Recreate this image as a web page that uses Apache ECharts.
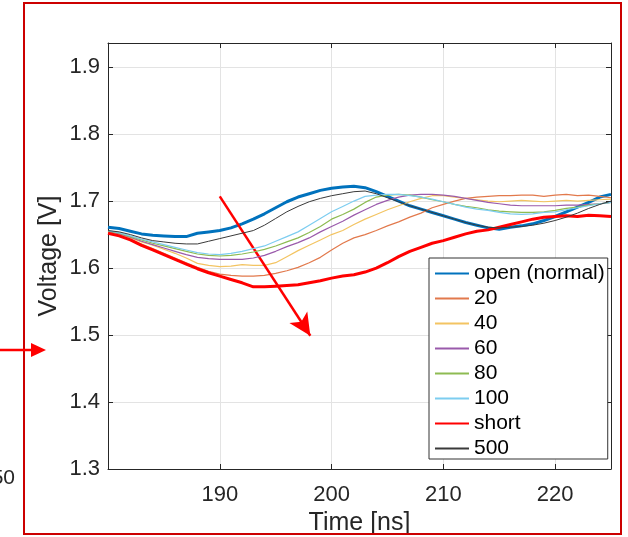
<!DOCTYPE html>
<html>
<head>
<meta charset="utf-8">
<script src="https://cdn.jsdelivr.net/npm/echarts@6/dist/echarts.min.js"></script>
<style>
  html, body { margin: 0; padding: 0; background: #fff; }
  #chart { width: 628px; height: 537px; }
</style>
</head>
<body>
<div id="chart"></div>
<script>
// time axis, 1 ns steps
var times = [];
for (var t = 180; t <= 225; t++) times.push(t);

var openNormal = [1.661,1.659,1.655,1.651,1.649,1.648,1.647,1.647,1.652,1.654,1.656,1.660,1.666,1.673,1.681,1.690,1.699,1.706,1.711,1.716,1.719,1.721,1.722,1.720,1.714,1.707,1.700,1.693,1.688,1.683,1.678,1.673,1.668,1.664,1.660,1.658,1.661,1.663,1.666,1.671,1.677,1.684,1.691,1.698,1.706,1.710];
var r20 = [1.653,1.649,1.643,1.636,1.629,1.622,1.615,1.608,1.601,1.595,1.591,1.589,1.588,1.588,1.589,1.592,1.596,1.601,1.608,1.616,1.627,1.637,1.645,1.650,1.656,1.663,1.669,1.676,1.682,1.690,1.695,1.700,1.704,1.706,1.707,1.708,1.708,1.709,1.709,1.707,1.709,1.710,1.708,1.709,1.707,1.705];
var r40 = [1.654,1.650,1.645,1.639,1.634,1.628,1.622,1.615,1.607,1.604,1.602,1.603,1.605,1.604,1.604,1.608,1.617,1.626,1.634,1.642,1.650,1.656,1.665,1.673,1.680,1.687,1.693,1.699,1.704,1.708,1.708,1.706,1.704,1.702,1.700,1.699,1.700,1.701,1.700,1.699,1.700,1.701,1.700,1.701,1.702,1.703];
var r60 = [1.655,1.651,1.646,1.640,1.635,1.630,1.625,1.620,1.616,1.614,1.613,1.613,1.613,1.615,1.619,1.625,1.632,1.638,1.645,1.654,1.662,1.670,1.679,1.687,1.695,1.701,1.706,1.709,1.710,1.710,1.709,1.707,1.704,1.701,1.698,1.696,1.694,1.693,1.693,1.693,1.693,1.694,1.694,1.695,1.696,1.698];
var r80 = [1.655,1.652,1.647,1.642,1.637,1.633,1.629,1.625,1.621,1.619,1.618,1.619,1.621,1.624,1.628,1.633,1.639,1.645,1.653,1.662,1.673,1.680,1.688,1.698,1.706,1.709,1.710,1.709,1.706,1.702,1.699,1.695,1.692,1.690,1.687,1.685,1.684,1.683,1.683,1.684,1.686,1.689,1.691,1.694,1.696,1.698];
var r100 = [1.656,1.653,1.648,1.643,1.639,1.635,1.631,1.627,1.623,1.621,1.620,1.622,1.625,1.629,1.633,1.640,1.647,1.654,1.664,1.674,1.684,1.692,1.700,1.707,1.709,1.710,1.710,1.708,1.706,1.703,1.699,1.695,1.691,1.688,1.686,1.683,1.681,1.680,1.681,1.683,1.684,1.687,1.690,1.693,1.696,1.698];
var shortCirc = [1.652,1.648,1.642,1.634,1.627,1.620,1.613,1.606,1.599,1.593,1.588,1.583,1.578,1.572,1.572,1.573,1.574,1.575,1.578,1.581,1.585,1.588,1.590,1.594,1.600,1.608,1.617,1.625,1.631,1.637,1.641,1.646,1.651,1.655,1.657,1.661,1.665,1.669,1.673,1.676,1.677,1.678,1.677,1.679,1.678,1.677];
var r500 = [1.656,1.654,1.650,1.645,1.641,1.639,1.637,1.636,1.636,1.640,1.644,1.648,1.652,1.656,1.664,1.674,1.684,1.692,1.699,1.704,1.708,1.711,1.714,1.715,1.711,1.705,1.699,1.693,1.688,1.683,1.678,1.673,1.668,1.664,1.661,1.660,1.661,1.662,1.664,1.667,1.671,1.676,1.682,1.689,1.695,1.700];

var seriesNames = ['open (normal)','20','40','60','80','100','short','500'];
var seriesData = [openNormal, r20, r40, r60, r80, r100, shortCirc, r500];
var seriesColors = ['#0072BD','#E2794C','#F3C462','#9A5AAB','#8EBB52','#7DCDF0','#FF0000','#3a3a3a'];
var seriesWidths = [3, 1.2, 1.2, 1.2, 1.2, 1.2, 3, 1];

// annotation arrow (data coords)
var arrowStart = [190, 1.707];
var arrowEnd = [198.1, 1.499];

function pairs(vals) {
    return times.map(function (t, i) { return [t, vals[i]]; });
}

var series = seriesNames.map(function (name, i) {
    return {
        name: name,
        type: 'line',
        data: pairs(seriesData[i]),
        showSymbol: false,
        symbol: 'none',
        smooth: false,
        color: seriesColors[i],
        itemStyle: { color: seriesColors[i] },
        lineStyle: { color: seriesColors[i], width: seriesWidths[i] },
        z: 2 + i
    };
});
series[0].markLine = {
    silent: true,
    symbol: ['none', 'arrow'],
    symbolSize: [16, 22],
    label: { show: false },
    lineStyle: { color: '#FF0000', width: 2.5, type: 'solid' },
    data: [[{ coord: arrowStart }, { coord: arrowEnd }]]
};

var axisCol = '#262626';
var fontFam = 'Liberation Sans, Arial, sans-serif';

var option = {
    animation: false,
    backgroundColor: '#fff',
    grid: { left: 108, right: 17, top: 43, bottom: 68, outerBoundsMode: 'none' },
    legend: {
        data: seriesNames,
        orient: 'vertical',
        left: 429,
        top: 258,
        itemWidth: 34,
        itemHeight: 14,
        itemGap: 4,
        itemStyle: { opacity: 0 },
        padding: [5, 3, 0, 5],
        borderColor: '#333',
        borderWidth: 1,
        backgroundColor: '#fff',
        textStyle: { fontSize: 21, lineHeight: 21, color: '#000', fontFamily: fontFam }
    },
    xAxis: [{
        type: 'value',
        min: 180, max: 225, interval: 10,
        name: 'Time [ns]',
        nameLocation: 'middle',
        nameGap: 40,
        nameTextStyle: { fontSize: 25, color: axisCol, fontFamily: fontFam },
        axisLine: { onZero: false, lineStyle: { color: axisCol, width: 1 } },
        axisTick: { inside: true, length: 5, lineStyle: { color: axisCol } },
        axisLabel: { showMinLabel: false, showMaxLabel: false, fontSize: 22, color: axisCol, fontFamily: fontFam, margin: 15 },
        splitLine: { show: true, lineStyle: { color: '#e3e3e3', width: 1 } }
    }, {
        type: 'value',
        position: 'top',
        min: 180, max: 225, interval: 10,
        axisLine: { onZero: false, lineStyle: { color: axisCol, width: 1 } },
        axisTick: { inside: true, length: 5, lineStyle: { color: axisCol } },
        axisLabel: { show: false },
        splitLine: { show: false }
    }],
    yAxis: [{
        type: 'value',
        min: 1.3, max: 1.936, interval: 0.1,
        name: 'Voltage [V]',
        nameLocation: 'middle',
        nameGap: 46,
        nameMoveOverlap: false,
        nameTextStyle: { fontSize: 25, color: axisCol, fontFamily: fontFam },
        axisLine: { show: true, onZero: false, lineStyle: { color: axisCol, width: 1 } },
        axisTick: { show: true, inside: true, length: 5, lineStyle: { color: axisCol } },
        axisLabel: {
            showMaxLabel: false, fontSize: 22, color: axisCol, fontFamily: fontFam, margin: 8,
            formatter: function (v) { return v.toFixed(1); }
        },
        splitLine: { show: true, lineStyle: { color: '#e3e3e3', width: 1 } }
    }, {
        type: 'value',
        position: 'right',
        min: 1.3, max: 1.936, interval: 0.1,
        axisLine: { show: true, onZero: false, lineStyle: { color: axisCol, width: 1 } },
        axisTick: { show: true, inside: true, length: 5, lineStyle: { color: axisCol } },
        axisLabel: { show: false },
        splitLine: { show: false }
    }],
    graphic: [
        { type: 'rect', shape: { x: 24, y: 3, width: 597, height: 531 }, style: { fill: 'none', stroke: '#cc0000', lineWidth: 2 }, z: 100 },
        { type: 'line', shape: { x1: 0, y1: 350, x2: 34, y2: 350 }, style: { stroke: '#ff0000', lineWidth: 2.5 }, z: 100 },
        { type: 'polygon', shape: { points: [[31, 343], [46, 350], [31, 357]] }, style: { fill: '#ff0000' }, z: 100 },
        { type: 'text', style: { text: '50', x: 15, y: 478, align: 'right', verticalAlign: 'middle', fontSize: 21, fill: '#262626', fontFamily: fontFam }, z: 100 }
    ],
    series: series
};

var myChart = echarts.init(document.getElementById('chart'));
myChart.setOption(option);
window.addEventListener('resize', function () { myChart.resize(); });
</script>
</body>
</html>
